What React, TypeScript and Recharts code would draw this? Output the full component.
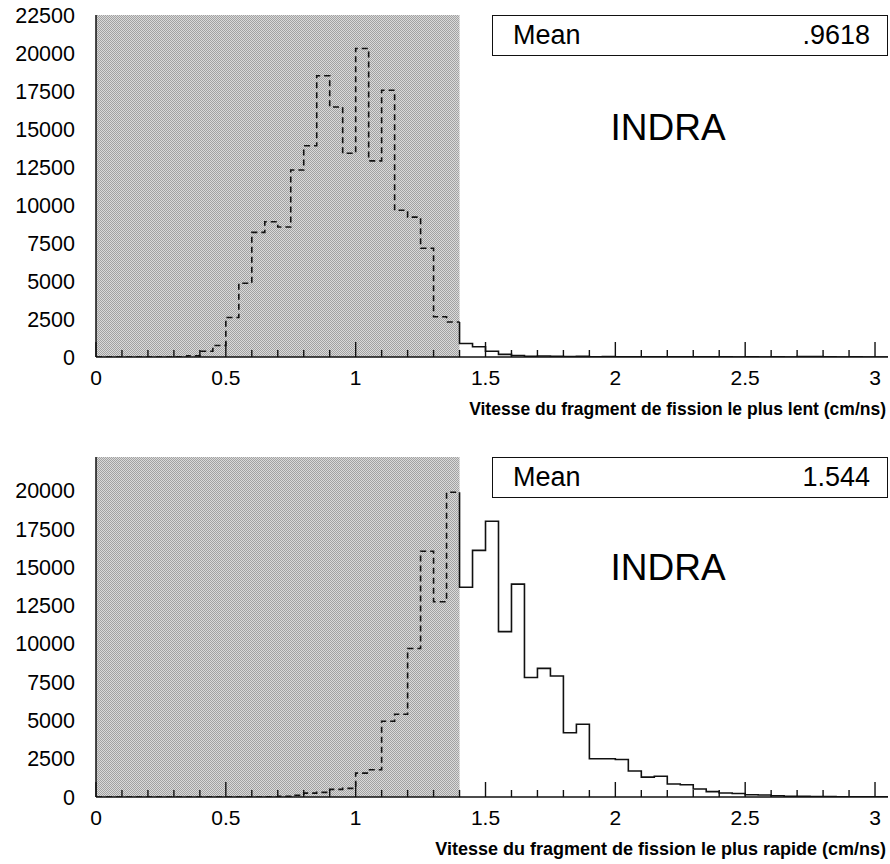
import React from 'react'
import { LineChart, Line, XAxis, YAxis, ReferenceArea } from 'recharts'

// bin lower edges (bin width 0.05 cm/ns)
const SHADED_EDGES = [0, 0.05, 0.1, 0.15, 0.2, 0.25, 0.3, 0.35, 0.4, 0.45, 0.5, 0.55, 0.6, 0.65, 0.7, 0.75, 0.8, 0.85, 0.9, 0.95, 1.0, 1.05, 1.1, 1.15, 1.2, 1.25, 1.3, 1.35]
const OPEN_EDGES = [1.4, 1.45, 1.5, 1.55, 1.6, 1.65, 1.7, 1.75, 1.8, 1.85, 1.9, 1.95, 2.0, 2.05, 2.1, 2.15, 2.2, 2.25, 2.3, 2.35, 2.4, 2.45, 2.5, 2.55, 2.6, 2.65, 2.7, 2.75, 2.8, 2.85, 2.9, 2.95, 3.0]
const CUT = 1.4
const X_MAX = 3.05

const X_TICKS = [0, 0.1, 0.2, 0.3, 0.4, 0.5, 0.6, 0.7, 0.8, 0.9, 1.0, 1.1, 1.2, 1.3, 1.4, 1.5, 1.6, 1.7, 1.8, 1.9, 2.0, 2.1, 2.2, 2.3, 2.4, 2.5, 2.6, 2.7, 2.8, 2.9, 3.0]
const X_LABELS = ['0', '0.5', '1', '1.5', '2', '2.5', '3']
const X_MAJOR = [0, 0.5, 1, 1.5, 2, 2.5, 3]

// slow fragment
const slowDashed = [0, 0, 0, 0, 0, 0, 20, 80, 380, 760, 2600, 4850, 8200, 8900, 8550, 12300, 13900, 18500, 16450, 13400, 20300, 12900, 17550, 9650, 9200, 7150, 2650, 2300]
const slowSolid = [890, 670, 380, 170, 100, 40, 70, 40, 30, 40, 20, 30, 20, 15, 10, 10, 5, 10, 5, 5, 5, 0, 5, 0, 5, 0, 30, 30, 10, 0, 5, 0, 0]
const slowYTicks = [0, 2500, 5000, 7500, 10000, 12500, 15000, 17500, 20000, 22500]
const slowYMax = 22500

// fast fragment
const fastDashed = [0, 0, 0, 0, 0, 0, 0, 0, 0, 0, 0, 0, 0, 20, 40, 110, 250, 300, 500, 560, 1560, 1780, 4950, 5400, 9700, 16050, 12750, 19900]
const fastSolid = [13700, 16100, 18000, 10800, 13900, 7800, 8400, 7900, 4200, 4750, 2500, 2500, 2450, 1700, 1300, 1350, 850, 800, 520, 350, 260, 230, 150, 130, 80, 50, 40, 30, 30, 20, 20, 10, 10]
const fastYTicks = [0, 2500, 5000, 7500, 10000, 12500, 15000, 17500, 20000]
const fastYMax = 22200

const INK = '#111'
const NUM_FONT = '"Liberation Sans", Arial, sans-serif'

function steps(edges: number[], counts: number[], endX: number) {
  const pts = edges.map((x, i) => ({ x, y: counts[i] }))
  pts.push({ x: endX, y: counts[counts.length - 1] })
  return pts
}

function XTick(props: any) {
  const { x, y, payload } = props
  const v = payload.value
  const k = X_MAJOR.findIndex((m) => Math.abs(m - v) < 1e-6)
  const major = k >= 0
  return (
    <g>
      <line x1={x} x2={x} y1={y} y2={y - (major ? 15 : 7)} stroke={INK} strokeWidth={1.4} />
      {major && (
        <text x={x} y={y + 28} textAnchor="middle" fontSize={21} fontFamily={NUM_FONT} fill="#000">
          {X_LABELS[k]}
        </text>
      )}
    </g>
  )
}

interface HistoProps {
  dashed: number[]
  solid: number[]
  yTicks: number[]
  yMax: number
  title: string
  titleSize: number
  marginTop: number
}

function Histo({ dashed, solid, yTicks, yMax, title, titleSize, marginTop }: HistoProps) {
  const dashData = steps(SHADED_EDGES, dashed, CUT)
  const solidData = [{ x: CUT, y: dashed[dashed.length - 1] }, ...steps(OPEN_EDGES, solid, X_MAX)]
  const axisLine = { stroke: INK, strokeWidth: 1.5 }

  return (
    <LineChart width={890} height={430} margin={{ top: marginTop, right: 2, bottom: 13, left: 0 }}>
      <XAxis
        dataKey="x"
        type="number"
        domain={[0, X_MAX]}
        allowDataOverflow
        ticks={X_TICKS}
        interval={0}
        tickLine={false}
        tickSize={0}
        tickMargin={0}
        tick={<XTick />}
        axisLine={axisLine}
        height={60}
        label={{
          value: title,
          position: 'insideBottomRight',
          offset: 2,
          fontSize: titleSize,
          fontWeight: 700,
          fontFamily: NUM_FONT,
          fill: '#000',
        }}
      />
      <XAxis xAxisId="top" orientation="top" type="number" domain={[0, X_MAX]} height={0} tick={false} tickLine={false} axisLine={axisLine} />
      <YAxis
        type="number"
        domain={[0, yMax]}
        allowDataOverflow
        ticks={yTicks}
        interval={0}
        tickLine={false}
        tickSize={0}
        tickMargin={21}
        width={96}
        axisLine={axisLine}
        tick={{ fontSize: 21.5, fontFamily: NUM_FONT, fill: '#000' }}
      />
      <YAxis yAxisId="right" orientation="right" type="number" domain={[0, yMax]} width={0} tick={false} tickLine={false} axisLine={axisLine} />
      <ReferenceArea x1={0} x2={CUT} y1={0} y2={yMax} fill="url(#stipple)" fillOpacity={1} stroke="none" />
      <Line
        data={dashData}
        dataKey="y"
        type="stepAfter"
        stroke={INK}
        strokeWidth={1.6}
        strokeDasharray="6 4"
        dot={false}
        isAnimationActive={false}
      />
      <Line
        data={solidData}
        dataKey="y"
        type="stepAfter"
        stroke={INK}
        strokeWidth={1.6}
        dot={false}
        isAnimationActive={false}
      />
    </LineChart>
  )
}

const boxStyle: React.CSSProperties = {
  position: 'absolute',
  left: 492,
  width: 396,
  height: 41,
  border: '1.5px solid #111',
  boxSizing: 'border-box',
  display: 'flex',
  justifyContent: 'space-between',
  alignItems: 'center',
  padding: '0 17px 0 20px',
  fontFamily: NUM_FONT,
  fontSize: 27,
  color: '#000',
  background: '#fff',
}

const indraStyle: React.CSSProperties = {
  position: 'absolute',
  left: 568,
  width: 200,
  textAlign: 'center',
  fontFamily: NUM_FONT,
  fontSize: 37,
  color: '#000',
  lineHeight: '40px',
}

export default function App() {
  return (
    <div style={{ position: 'absolute', left: 0, top: 0, width: 890, height: 864, background: '#fff' }}>
      <svg width={0} height={0} style={{ position: 'absolute' }}>
        <defs>
          <pattern id="stipple" width={2} height={2} patternUnits="userSpaceOnUse">
            <rect width={2} height={2} fill="#dadada" />
            <rect width={1} height={1} fill="#a2a2a2" />
            <rect x={1} y={1} width={1} height={1} fill="#a2a2a2" />
          </pattern>
        </defs>
      </svg>
      <div style={{ position: 'absolute', left: 0, top: 0 }}>
        <Histo
          dashed={slowDashed}
          solid={slowSolid}
          yTicks={slowYTicks}
          yMax={slowYMax}
          title="Vitesse du fragment de fission le plus lent (cm/ns)"
          titleSize={17.5}
          marginTop={15}
        />
      </div>
      <div style={{ position: 'absolute', left: 0, top: 440 }}>
        <Histo
          dashed={fastDashed}
          solid={fastSolid}
          yTicks={fastYTicks}
          yMax={fastYMax}
          title="Vitesse du fragment de fission le plus rapide (cm/ns)"
          titleSize={18}
          marginTop={17}
        />
      </div>
      <div style={{ ...boxStyle, top: 15 }}>
        <span>Mean</span>
        <span>.9618</span>
      </div>
      <div style={{ ...boxStyle, top: 457 }}>
        <span>Mean</span>
        <span>1.544</span>
      </div>
      <div style={{ ...indraStyle, top: 108 }}>INDRA</div>
      <div style={{ ...indraStyle, top: 548 }}>INDRA</div>
    </div>
  )
}
